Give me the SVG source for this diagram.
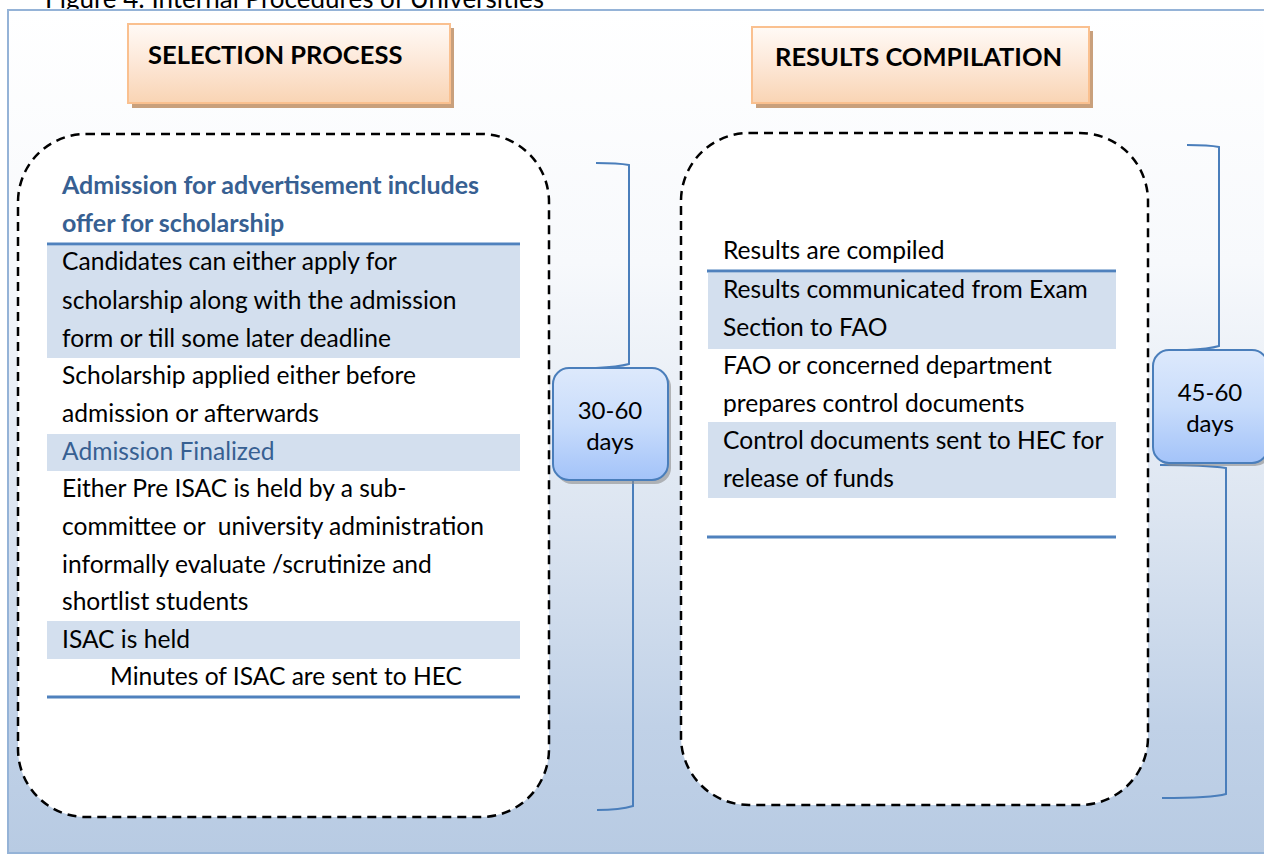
<svg xmlns="http://www.w3.org/2000/svg" width="1264" height="855" viewBox="0 0 1264 855">
<defs>
<linearGradient id="bg" x1="0" y1="0" x2="0" y2="1">
<stop offset="0" stop-color="#ffffff"/>
<stop offset="0.3" stop-color="#f7f9fc"/>
<stop offset="0.6" stop-color="#dce5f1"/>
<stop offset="0.85" stop-color="#c0d1e7"/>
<stop offset="1" stop-color="#b8cbe3"/>
</linearGradient>
<linearGradient id="hdr" x1="0" y1="0" x2="0" y2="1">
<stop offset="0" stop-color="#fffaf6"/>
<stop offset="0.45" stop-color="#fde9da"/>
<stop offset="1" stop-color="#f9d4b4"/>
</linearGradient>
<linearGradient id="day" x1="0" y1="0" x2="0" y2="1">
<stop offset="0" stop-color="#dde9fc"/>
<stop offset="0.5" stop-color="#c8dcfb"/>
<stop offset="1" stop-color="#a3c3f9"/>
</linearGradient>
<style>
.t{font-family:Lato,"Liberation Sans",sans-serif;font-size:24.6px;fill:#000}
.tb{font-family:Lato,"Liberation Sans",sans-serif;font-size:25px;font-weight:bold;fill:#376092}
.tblue{font-family:Lato,"Liberation Sans",sans-serif;font-size:24.6px;fill:#376092}
.h{font-family:Lato,"Liberation Sans",sans-serif;font-size:25.5px;font-weight:bold;fill:#000}
.d{font-family:Lato,"Liberation Sans",sans-serif;font-size:24px;fill:#000;text-anchor:middle}
.hl{fill:#d3dfee}
.rule{stroke:#4f81bd;stroke-width:3}
.dash{fill:#fff;stroke:#000;stroke-width:2.5;stroke-dasharray:9 6}
.hbox{fill:url(#hdr);stroke:#fac08f;stroke-width:2}
.hsh{fill:#c9a07c}
.dbox{fill:url(#day);stroke:#4a7ebb;stroke-width:2}
.dsh{fill:#8c8c8c;opacity:0.6}
.br{fill:none;stroke:#4a7ebb;stroke-width:2}
</style>
</defs>
<text class="t" x="45" y="8" style="font-size:26px">Figure 4: Internal Procedures of Universities</text>
<rect x="8" y="10" width="1270" height="843" fill="url(#bg)" stroke="#95b3d7" stroke-width="2"/>

<g id="selection-header">
<rect class="hsh" x="132" y="28" width="322" height="80"/>
<rect class="hbox" x="128" y="24" width="322" height="79"/>
<text class="h" x="148" y="64">SELECTION PROCESS</text>
</g>
<g id="results-header">
<rect class="hsh" x="756" y="31" width="337" height="77"/>
<rect class="hbox" x="752" y="27" width="337" height="76"/>
<text class="h" x="775" y="66">RESULTS COMPILATION</text>
</g>

<g id="selection-process">
<rect class="dash" x="18" y="134" width="531" height="683" rx="68"/>
<text class="tb" x="62" y="194">Admission for advertisement includes</text>
<text class="tb" x="62" y="232">offer for scholarship</text>
<line class="rule" x1="47" y1="244" x2="520" y2="244"/>
<rect class="hl" x="47" y="246" width="473" height="112"/>
<text class="t" x="62" y="270">Candidates can either apply for</text>
<text class="t" x="62" y="309">scholarship along with the admission</text>
<text class="t" x="62" y="347">form or till some later deadline</text>
<text class="t" x="62" y="384">Scholarship applied either before</text>
<text class="t" x="62" y="422">admission or afterwards</text>
<rect class="hl" x="47" y="434" width="473" height="37"/>
<text class="tblue" x="62" y="460">Admission Finalized</text>
<text class="t" x="62" y="497">Either Pre ISAC is held by a sub-</text>
<text class="t" x="62" y="535" xml:space="preserve">committee or  university administration</text>
<text class="t" x="62" y="573">informally evaluate /scrutinize and</text>
<text class="t" x="62" y="610">shortlist students</text>
<rect class="hl" x="47" y="621" width="473" height="38"/>
<text class="t" x="62" y="648">ISAC is held</text>
<text class="t" x="110" y="685">Minutes of ISAC are sent to HEC</text>
<line class="rule" x1="47" y1="697" x2="520" y2="697"/>
</g>

<g id="results-compilation">
<rect class="dash" x="681" y="133" width="467" height="672" rx="68"/>
<text class="t" x="723" y="259">Results are compiled</text>
<line class="rule" x1="707" y1="271" x2="1116" y2="271"/>
<rect class="hl" x="708" y="273" width="408" height="76"/>
<text class="t" x="723" y="298">Results communicated from Exam</text>
<text class="t" x="723" y="336">Section to FAO</text>
<text class="t" x="723" y="374">FAO or concerned department</text>
<text class="t" x="723" y="412">prepares control documents</text>
<rect class="hl" x="708" y="422" width="408" height="76"/>
<text class="t" x="723" y="449">Control documents sent to HEC for</text>
<text class="t" x="723" y="487">release of funds</text>
<line class="rule" x1="707" y1="537" x2="1116" y2="537"/>
</g>

<g id="connectors">
<path class="br" d="M596,163 Q618,163 629,165 L629,364 Q618,367 596,368"/>
<path class="br" d="M568,477 Q610,477 633,480 L633,806 Q620,810 597,810"/>
<path class="br" d="M1187,145 Q1209,145 1219,147 L1219,346 Q1209,349 1187,350"/>
<path class="br" d="M1160,465 Q1205,465 1226,468 L1226,794 Q1212,798 1162,798"/>
</g>

<g id="duration-30-60">
<rect class="dsh" x="556" y="371" width="115" height="113" rx="16"/>
<rect class="dbox" x="553" y="368" width="115" height="112" rx="16"/>
<text class="d" x="610" y="419">30-60</text>
<text class="d" x="610" y="450">days</text>
</g>
<g id="duration-45-60">
<rect class="dsh" x="1156" y="353" width="115" height="113" rx="16"/>
<rect class="dbox" x="1153" y="350" width="115" height="113" rx="16"/>
<text class="d" x="1210" y="401">45-60</text>
<text class="d" x="1210" y="432">days</text>
</g>
</svg>
